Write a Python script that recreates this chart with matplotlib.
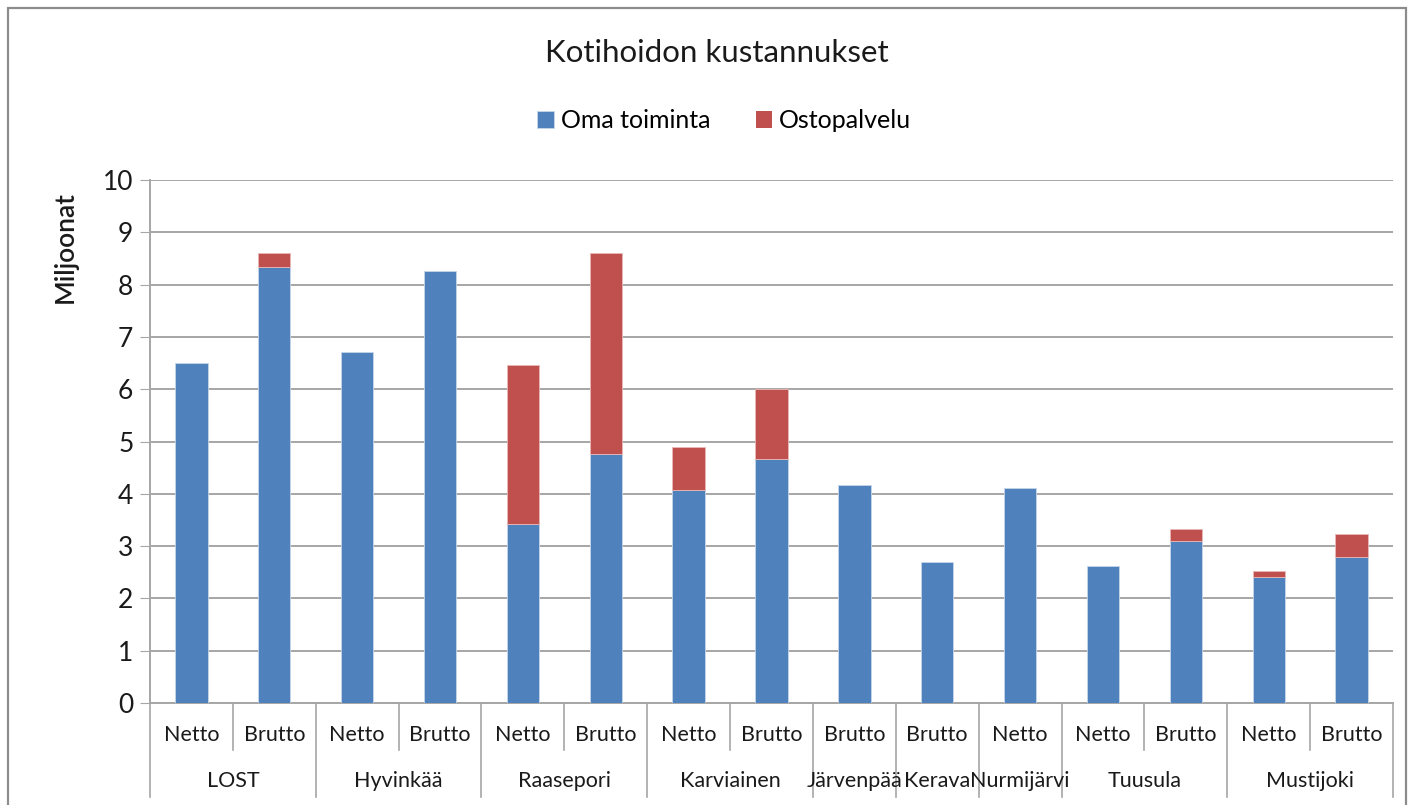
import matplotlib.pyplot as plt
import matplotlib.transforms as mtransforms
from matplotlib.lines import Line2D
from matplotlib.patches import Rectangle
import numpy as np

plt.rcParams['font.family'] = ['Lato', 'DejaVu Sans']

# data (millions)
groups = ["LOST", "Hyvinkää", "Raasepori", "Karviainen", "Järvenpää",
          "Kerava", "Nurmijärvi", "Tuusula", "Mustijoki"]
group_sizes = [2, 2, 2, 2, 1, 1, 1, 2, 2]
sub_labels = ["Netto", "Brutto", "Netto", "Brutto", "Netto", "Brutto",
              "Netto", "Brutto", "Brutto", "Brutto", "Netto",
              "Netto", "Brutto", "Netto", "Brutto"]
oma = [6.50, 8.33, 6.71, 8.26, 3.43, 4.76, 4.08, 4.66, 4.16, 2.69, 4.11,
       2.62, 3.10, 2.41, 2.79]
osto = [0.0, 0.27, 0.0, 0.0, 3.04, 3.84, 0.81, 1.34, 0.0, 0.0, 0.0,
        0.0, 0.22, 0.12, 0.45]

blue = '#4F81BD'
red = '#C0504D'
grid_c = '#A6A6A6'
txt_c = '#1A1A1A'

fig = plt.figure(figsize=(14.12, 8.05), dpi=100)
ax = fig.add_axes([150 / 1412, 1 - 703 / 805, 1243 / 1412, 523 / 805])

x = np.arange(len(oma))
ax.bar(x, oma, width=0.39, color=blue, edgecolor='#C6D6EA', linewidth=0.6,
       label='Oma toiminta', zorder=3)
red_lw = [0.6 if v > 0 else 0 for v in osto]
ax.bar(x, osto, width=0.39, bottom=oma, color=red, edgecolor='#E8B8B7',
       linewidth=red_lw, label='Ostopalvelu', zorder=3)

ax.set_xlim(-0.5, len(oma) - 0.5)
ax.set_ylim(0, 10)
ax.set_yticks(range(0, 11))
ax.tick_params(axis='y', labelsize=19, length=7, color=grid_c, pad=5,
               labelcolor=txt_c)
ax.set_xticks([])
ax.yaxis.grid(True, color=grid_c, linewidth=1.4, zorder=0)
for s in ['top', 'right']:
    ax.spines[s].set_visible(False)
for s in ['left', 'bottom']:
    ax.spines[s].set_color(grid_c)
    ax.spines[s].set_linewidth(1.4)

ax.set_ylabel('Miljoonat', fontsize=19, color=txt_c, fontweight='semibold')
ax.yaxis.set_label_coords(-0.058, 0.872)

# multi-level category axis
trans = mtransforms.blended_transform_factory(ax.transData, ax.transAxes)
for i, lab in enumerate(sub_labels):
    ax.text(i, -0.061, lab, transform=trans, ha='center', va='center',
            fontsize=15.5, color=txt_c)

start = 0
bounds = [-0.5]
for g, n in zip(groups, group_sizes):
    ax.text(start + (n - 1) / 2, -0.149, g, transform=trans, ha='center',
            va='center', fontsize=15.5, color=txt_c)
    for k in range(1, n):
        ax.add_line(Line2D([start + k - 0.5] * 2, [0, -0.09], transform=trans,
                           color=grid_c, linewidth=1.2, clip_on=False))
    start += n
    bounds.append(start - 0.5)
for b in bounds:
    ax.add_line(Line2D([b, b], [0, -0.18], transform=trans, color=grid_c,
                       linewidth=1.2, clip_on=False))

fig.text(0.508, 1 - 53 / 805, 'Kotihoidon kustannukset', ha='center',
         va='center', fontsize=22.5, color=txt_c)
fig.legend(loc='center', bbox_to_anchor=(0.513, 1 - 121 / 805), ncol=2,
           frameon=False, fontsize=18, handlelength=0.65, handleheight=0.65,
           columnspacing=1.8, handletextpad=0.3)

# chart border
fig.add_artist(Rectangle((8 / 1412, -0.01), 1398 / 1412, 1.0,
                         transform=fig.transFigure, fill=False,
                         edgecolor='#8C8C8C', linewidth=1.6))

fig.savefig('out.png', dpi=100)
